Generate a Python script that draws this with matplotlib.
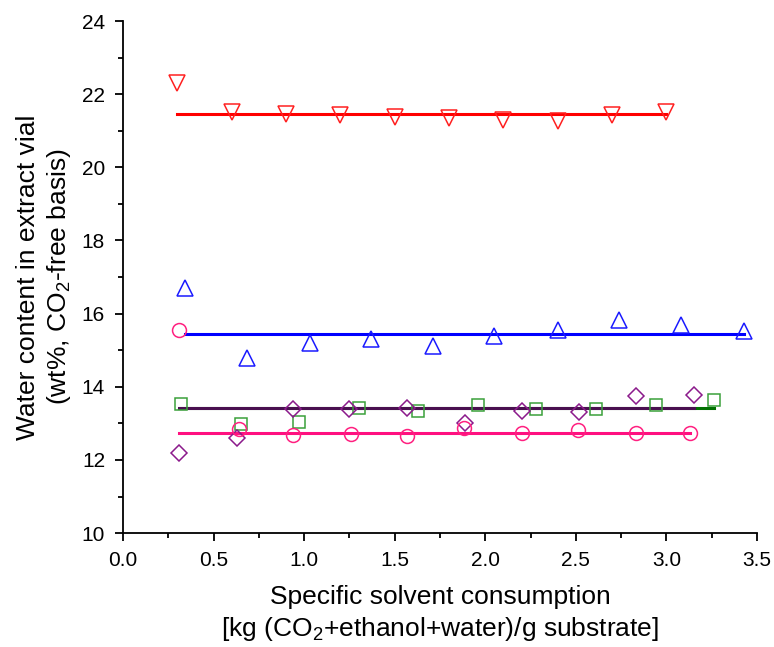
import matplotlib
matplotlib.use("Agg")
import matplotlib.pyplot as plt
from matplotlib.ticker import MultipleLocator

plt.rcParams['font.family'] = ['Liberation Sans', 'DejaVu Sans']
plt.rcParams['mathtext.fontset'] = 'custom'
plt.rcParams['mathtext.rm'] = 'Liberation Sans'

# Red (down triangles)
x_red = [0.30, 0.60, 0.90, 1.20, 1.50, 1.80, 2.10, 2.40, 2.70, 3.00]
y_red = [22.30, 21.50, 21.45, 21.42, 21.38, 21.35, 21.30, 21.28, 21.42, 21.50]
fit_red = 21.45
# Blue (up triangles)
x_blue = [0.34, 0.685, 1.03, 1.37, 1.71, 2.05, 2.40, 2.74, 3.08, 3.43]
y_blue = [16.70, 14.78, 15.20, 15.30, 15.12, 15.40, 15.55, 15.82, 15.68, 15.52]
fit_blue = 15.45
# Pink (circles)
x_pink = [0.31, 0.64, 0.94, 1.26, 1.57, 1.88, 2.20, 2.51, 2.83, 3.13]
y_pink = [15.55, 12.85, 12.68, 12.70, 12.65, 12.88, 12.75, 12.82, 12.75, 12.75]
fit_pink = 12.75
# Green (squares)
x_green = [0.32, 0.65, 0.97, 1.30, 1.63, 1.96, 2.28, 2.61, 2.94, 3.26]
y_green = [13.52, 12.98, 13.05, 13.42, 13.35, 13.50, 13.40, 13.38, 13.50, 13.65]
fit_green = 13.41
# Purple (diamonds)
x_purple = [0.31, 0.63, 0.94, 1.25, 1.57, 1.89, 2.20, 2.52, 2.83, 3.15]
y_purple = [12.20, 12.60, 13.40, 13.38, 13.42, 13.00, 13.35, 13.32, 13.75, 13.78]
fit_purple = 13.43

fig = plt.figure(figsize=(7.74, 6.47), dpi=100)
ax = fig.add_axes([0.159, 0.176, 0.819, 0.7915])

series = [
    (x_red, y_red, fit_red, 'v', '#ff2020', '#ff0000', 11),
    (x_blue, y_blue, fit_blue, '^', '#1a1aff', '#0000ff', 11),
    (x_green, y_green, fit_green, 's', '#3aa03a', '#007000', 9),
    (x_purple, y_purple, fit_purple, 'D', '#8b1a8b', '#4a1050', 8.5),
    (x_pink, y_pink, fit_pink, 'o', '#ff2080', '#ff1080', 10),
]
for xs, ys, fit, m, mc, lc, ms in series:
    ax.plot([xs[0], xs[-1]], [fit, fit], color=lc, lw=2.2, zorder=2)
    ax.plot(xs, ys, linestyle='none', marker=m, markersize=ms,
            markerfacecolor='none', markeredgecolor=mc, markeredgewidth=1.1, zorder=3)

ax.set_xlim(0, 3.5)
ax.set_ylim(10, 24)
ax.xaxis.set_major_locator(MultipleLocator(0.5))
ax.xaxis.set_minor_locator(MultipleLocator(0.25))
ax.yaxis.set_major_locator(MultipleLocator(2))
ax.yaxis.set_minor_locator(MultipleLocator(1))
ax.xaxis.set_major_formatter(plt.FormatStrFormatter('%.1f'))
for s in ['top', 'right']:
    ax.spines[s].set_visible(False)
for s in ['left', 'bottom']:
    ax.spines[s].set_linewidth(1.3)
ax.tick_params(which='major', direction='out', length=6, width=1.3, labelsize=15, pad=7)
ax.tick_params(which='minor', direction='out', length=3.5, width=1.3)

ax.set_xlabel('Specific solvent consumption\n[kg (CO$_2$+ethanol+water)/g substrate]',
              fontsize=19, linespacing=1.25, labelpad=11)
ax.set_ylabel('Water content in extract vial\n(wt%, CO$_2$-free basis)',
              fontsize=19, linespacing=1.25, labelpad=6)

fig.savefig('out.png', dpi=100)
